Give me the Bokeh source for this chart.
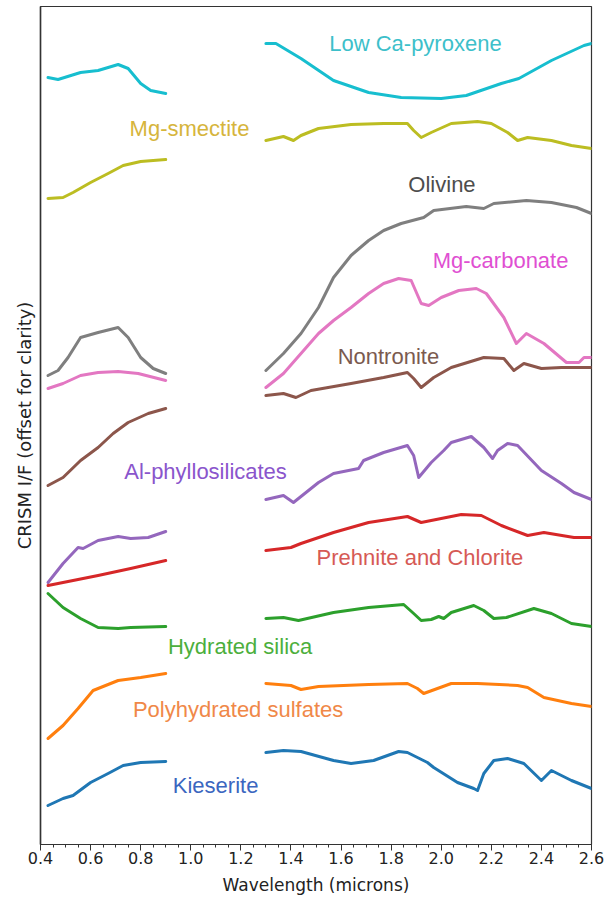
from bokeh.plotting import figure
from bokeh.models import Range1d, FixedTicker, ColumnDataSource
from bokeh.core.properties import value
from bokeh.embed import file_html
from bokeh.resources import INLINE

# ---- data: wavelength (microns) and offset I/F ----
# visible segment (0.43-0.90 um) and infrared segment (1.30-2.60 um)
lcp_w1 = [0.43, 0.47, 0.56, 0.63, 0.71, 0.75, 0.80, 0.84, 0.90]
lcp_v1 = [0.767, 0.765, 0.772, 0.774, 0.780, 0.776, 0.761, 0.754, 0.751]
lcp_w2 = [1.30, 1.34, 1.44, 1.57, 1.71, 1.84, 2.00, 2.10, 2.24, 2.31, 2.44, 2.57, 2.60]
lcp_v2 = [0.801, 0.801, 0.786, 0.764, 0.752, 0.747, 0.746, 0.749, 0.761, 0.766, 0.784, 0.799, 0.801]

msm_w1 = [0.43, 0.49, 0.53, 0.60, 0.67, 0.73, 0.80, 0.90]
msm_v1 = [0.646, 0.647, 0.652, 0.662, 0.671, 0.679, 0.683, 0.685]
msm_w2 = [1.30, 1.37, 1.41, 1.44, 1.51, 1.64, 1.77, 1.865, 1.89, 1.92, 1.96, 2.04, 2.145, 2.20, 2.265, 2.305, 2.345, 2.44, 2.52, 2.60]
msm_v2 = [0.704, 0.708, 0.704, 0.709, 0.716, 0.720, 0.721, 0.721, 0.714, 0.707, 0.712, 0.721, 0.723, 0.721, 0.712, 0.704, 0.707, 0.704, 0.699, 0.696]

oli_w1 = [0.43, 0.47, 0.51, 0.56, 0.63, 0.71, 0.75, 0.80, 0.85, 0.90]
oli_v1 = [0.469, 0.474, 0.487, 0.507, 0.512, 0.517, 0.507, 0.487, 0.476, 0.471]
oli_w2 = [1.30, 1.37, 1.44, 1.51, 1.57, 1.64, 1.71, 1.77, 1.84, 1.93, 1.97, 2.10, 2.17, 2.21, 2.34, 2.44, 2.54, 2.60]
oli_v2 = [0.474, 0.491, 0.511, 0.537, 0.567, 0.589, 0.604, 0.614, 0.621, 0.627, 0.634, 0.638, 0.636, 0.641, 0.644, 0.642, 0.637, 0.631]

mgc_w1 = [0.43, 0.49, 0.56, 0.63, 0.71, 0.79, 0.90]
mgc_v1 = [0.456, 0.461, 0.469, 0.472, 0.473, 0.471, 0.464]
mgc_w2 = [1.30, 1.37, 1.44, 1.51, 1.57, 1.64, 1.71, 1.77, 1.83, 1.88, 1.92, 1.95, 2.00, 2.07, 2.14, 2.18, 2.25, 2.30, 2.34, 2.41, 2.50, 2.55, 2.57, 2.60]
mgc_v2 = [0.457, 0.471, 0.491, 0.511, 0.524, 0.537, 0.551, 0.561, 0.566, 0.564, 0.541, 0.539, 0.547, 0.554, 0.556, 0.551, 0.527, 0.501, 0.511, 0.501, 0.482, 0.482, 0.487, 0.487]

non_w1 = [0.43, 0.49, 0.56, 0.63, 0.69, 0.75, 0.83, 0.90]
non_v1 = [0.359, 0.367, 0.384, 0.397, 0.411, 0.422, 0.431, 0.436]
non_w2 = [1.30, 1.37, 1.42, 1.48, 1.64, 1.77, 1.865, 1.89, 1.92, 1.97, 2.04, 2.17, 2.25, 2.29, 2.33, 2.40, 2.48, 2.60]
non_v2 = [0.449, 0.451, 0.447, 0.454, 0.461, 0.467, 0.472, 0.466, 0.457, 0.467, 0.477, 0.487, 0.486, 0.474, 0.481, 0.476, 0.477, 0.477]

alp_w1 = [0.43, 0.49, 0.55, 0.57, 0.63, 0.71, 0.76, 0.83, 0.90]
alp_v1 = [0.262, 0.281, 0.297, 0.296, 0.304, 0.308, 0.306, 0.307, 0.313]
alp_w2 = [1.30, 1.37, 1.41, 1.51, 1.57, 1.67, 1.69, 1.77, 1.865, 1.89, 1.91, 1.96, 2.01, 2.04, 2.12, 2.17, 2.205, 2.225, 2.265, 2.305, 2.40, 2.48, 2.53, 2.60]
alp_v2 = [0.345, 0.349, 0.342, 0.362, 0.371, 0.376, 0.384, 0.392, 0.399, 0.389, 0.367, 0.382, 0.394, 0.402, 0.408, 0.397, 0.386, 0.394, 0.401, 0.399, 0.374, 0.361, 0.352, 0.345]

prc_w1 = [0.43, 0.49, 0.63, 0.76, 0.90]
prc_v1 = [0.259, 0.262, 0.269, 0.276, 0.284]
prc_w2 = [1.30, 1.40, 1.44, 1.57, 1.71, 1.865, 1.92, 2.00, 2.08, 2.16, 2.24, 2.345, 2.41, 2.53, 2.60]
prc_v2 = [0.294, 0.297, 0.301, 0.312, 0.322, 0.328, 0.322, 0.326, 0.330, 0.329, 0.319, 0.309, 0.312, 0.307, 0.307]

hsi_w1 = [0.43, 0.49, 0.56, 0.63, 0.71, 0.76, 0.90]
hsi_v1 = [0.251, 0.237, 0.226, 0.217, 0.216, 0.217, 0.218]
hsi_w2 = [1.30, 1.37, 1.43, 1.57, 1.71, 1.85, 1.89, 1.92, 1.96, 1.99, 2.01, 2.04, 2.13, 2.17, 2.21, 2.26, 2.37, 2.44, 2.52, 2.60]
hsi_v2 = [0.226, 0.227, 0.224, 0.232, 0.237, 0.240, 0.231, 0.224, 0.225, 0.228, 0.226, 0.232, 0.239, 0.234, 0.226, 0.227, 0.236, 0.231, 0.221, 0.218]

phs_w1 = [0.43, 0.49, 0.55, 0.61, 0.71, 0.80, 0.90]
phs_v1 = [0.106, 0.119, 0.136, 0.154, 0.164, 0.167, 0.171]
phs_w2 = [1.30, 1.40, 1.44, 1.51, 1.71, 1.865, 1.905, 1.93, 1.985, 2.04, 2.145, 2.305, 2.345, 2.41, 2.52, 2.60]
phs_v2 = [0.161, 0.159, 0.155, 0.158, 0.160, 0.161, 0.156, 0.151, 0.156, 0.161, 0.161, 0.159, 0.157, 0.147, 0.141, 0.138]

kie_w1 = [0.43, 0.49, 0.53, 0.60, 0.67, 0.73, 0.80, 0.90]
kie_v1 = [0.039, 0.046, 0.049, 0.062, 0.071, 0.079, 0.082, 0.083]
kie_w2 = [1.30, 1.37, 1.44, 1.57, 1.64, 1.73, 1.83, 1.865, 1.945, 1.97, 2.065, 2.13, 2.145, 2.17, 2.21, 2.265, 2.33, 2.40, 2.44, 2.52, 2.60]
kie_v2 = [0.092, 0.094, 0.093, 0.084, 0.081, 0.084, 0.093, 0.092, 0.082, 0.077, 0.062, 0.056, 0.054, 0.071, 0.084, 0.086, 0.081, 0.064, 0.074, 0.064, 0.056]

names = ["Low Ca-pyroxene", "Mg-smectite", "Olivine", "Mg-carbonate", "Nontronite",
         "Al-phyllosilicates", "Prehnite and Chlorite", "Hydrated silica",
         "Polyhydrated sulfates", "Kieserite"]
line_colors = ["#17becf", "#bcbd22", "#7f7f7f", "#e377c2", "#8c564b",
               "#9467bd", "#d62728", "#2ca02c", "#ff7f0e", "#1f77b4"]
label_colors = ["#3dbfca", "#d6b53c", "#4d4d4d", "#e04fd2", "#7b5a4f",
                "#8a55cc", "#d65a55", "#4caf3c", "#f08848", "#3b66c0"]
label_x = [1.897, 0.995, 2.003, 2.237, 1.789, 1.059, 1.915, 1.197, 1.189, 1.099]
label_y = [0.801, 0.716, 0.660, 0.584, 0.488, 0.373, 0.287, 0.198, 0.135, 0.059]

tick_values = [0.4, 0.6, 0.8, 1.0, 1.2, 1.4, 1.6, 1.8, 2.0, 2.2, 2.4, 2.6]
tick_labels = ["0.4", "0.6", "0.8", "1.0", "1.2", "1.4", "1.6", "1.8", "2.0", "2.2", "2.4", "2.6"]
minor_values = [round(0.4 + 0.05 * i, 2) for i in range(45)]

series = [
    (lcp_w1, lcp_v1, lcp_w2, lcp_v2),
    (msm_w1, msm_v1, msm_w2, msm_v2),
    (oli_w1, oli_v1, oli_w2, oli_v2),
    (mgc_w1, mgc_v1, mgc_w2, mgc_v2),
    (non_w1, non_v1, non_w2, non_v2),
    (alp_w1, alp_v1, alp_w2, alp_v2),
    (prc_w1, prc_v1, prc_w2, prc_v2),
    (hsi_w1, hsi_v1, hsi_w2, hsi_v2),
    (phs_w1, phs_v1, phs_w2, phs_v2),
    (kie_w1, kie_v1, kie_w2, kie_v2),
]

# ---- figure ----
p = figure(width=610, height=903, output_backend="svg", toolbar_location=None,
           x_range=Range1d(0.4, 2.6), y_range=Range1d(0.0, 0.838),
           min_border_left=40, min_border_right=19, min_border_top=6, min_border_bottom=59)
p.background_fill_color = "white"
p.border_fill_color = "white"
p.xgrid.visible = False
p.ygrid.visible = False
p.outline_line_color = "#333333"
p.outline_line_width = 1.2

ax = p.xaxis[0]
ax.ticker = FixedTicker(ticks=tick_values, minor_ticks=minor_values)
ax.major_label_overrides = {v: s for v, s in zip(tick_values, tick_labels)}
ax.axis_label = "Wavelength (microns)"
ax.axis_label_text_font = "DejaVu Sans"
ax.axis_label_text_font_style = "normal"
ax.axis_label_text_font_size = "17px"
ax.axis_label_text_color = "#222222"
ax.axis_label_standoff = 8
ax.major_label_text_font = "DejaVu Sans"
ax.major_label_text_font_size = "16px"
ax.major_label_text_color = "#222222"
ax.major_label_standoff = 1
ax.major_tick_out = 6
ax.major_tick_in = 0
ax.minor_tick_out = 3
ax.minor_tick_in = 0
ax.axis_line_color = "#333333"
ax.major_tick_line_color = "#333333"
ax.minor_tick_line_color = "#333333"

ay = p.yaxis[0]
ay.ticker = FixedTicker(ticks=[])
ay.major_tick_out = 0
ay.major_tick_in = 0
ay.minor_tick_out = 0
ay.minor_tick_in = 0
ay.axis_label = "CRISM I/F (offset for clarity)"
ay.axis_label_text_font = "DejaVu Sans"
ay.axis_label_text_font_style = "normal"
ay.axis_label_text_font_size = "18px"
ay.axis_label_text_color = "#222222"
ay.axis_label_standoff = 6
ay.axis_line_color = "#333333"
ay.axis_line_width = 1.5

for (w1, v1, w2, v2), c in zip(series, line_colors):
    p.line(w1, v1, line_color=c, line_width=3, line_join="round", line_cap="round")
    p.line(w2, v2, line_color=c, line_width=3, line_join="round", line_cap="round")

src = ColumnDataSource(dict(x=label_x, y=label_y, t=names, c=label_colors))
p.text(x="x", y="y", text="t", text_color="c", source=src,
       text_align="center", text_baseline="middle",
       text_font=value("Liberation Sans"), text_font_size="22px")

open("out.html", "w").write(file_html(p, INLINE))
